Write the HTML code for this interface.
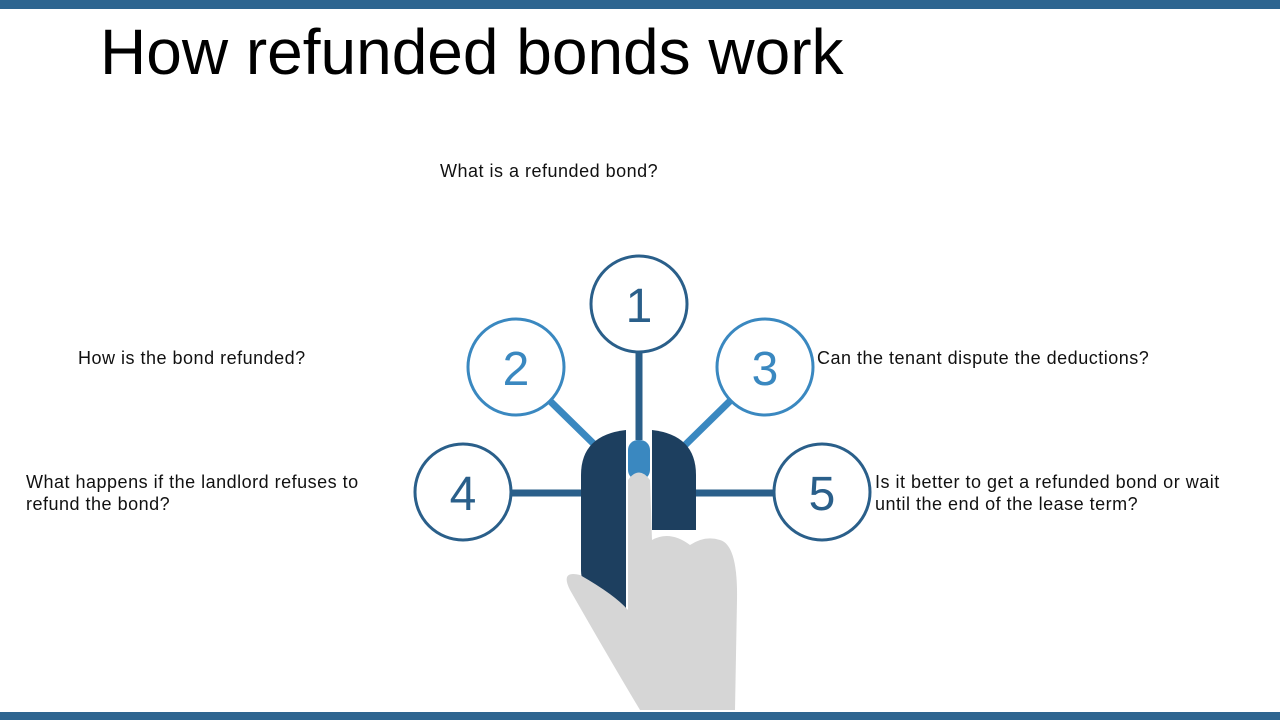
<!DOCTYPE html>
<html><head><style>
body{margin:0;width:1280px;height:720px;position:relative;background:#fff;overflow:hidden;font-family:"Liberation Sans",sans-serif;}
.t{position:absolute;font-size:18px;letter-spacing:0.5px;color:#111;line-height:22px;}
</style></head><body>
<div style="position:absolute;left:0;top:0;width:1280px;height:9px;background:#2e6590"></div>
<div style="position:absolute;left:0;top:712px;width:1280px;height:8px;background:#2e6590"></div>
<div style="position:absolute;left:100px;top:14px;font-size:64px;color:#000;line-height:76px;">How refunded bonds work</div>
<div class="t" style="left:440px;top:160px">What is a refunded bond?</div>
<div class="t" style="left:78px;top:347px">How is the bond refunded?</div>
<div class="t" style="left:817px;top:347px">Can the tenant dispute the deductions?</div>
<div class="t" style="left:26px;top:471px">What happens if the landlord refuses to<br>refund the bond?</div>
<div class="t" style="left:875px;top:471px">Is it better to get a refunded bond or wait<br>until the end of the lease term?</div>
<svg width="1280" height="720" style="position:absolute;left:0;top:0">
<g stroke-width="7">
<line x1="639" y1="352" x2="639" y2="440" stroke="#2a5f8a"/>
<line x1="550" y1="401" x2="600" y2="450" stroke="#3a88c0"/>
<line x1="730" y1="401" x2="680" y2="450" stroke="#3a88c0"/>
<line x1="511" y1="493" x2="590" y2="493" stroke="#2a5f8a"/>
<line x1="690" y1="493" x2="774" y2="493" stroke="#2a5f8a"/>
</g>
<g fill="#fff" stroke-width="3">
<circle cx="639" cy="304" r="48" stroke="#2a5f8a"/>
<circle cx="516" cy="367" r="48" stroke="#3a88c0"/>
<circle cx="765" cy="367" r="48" stroke="#3a88c0"/>
<circle cx="463" cy="492" r="48" stroke="#2a5f8a"/>
<circle cx="822" cy="492" r="48" stroke="#2a5f8a"/>
</g>
<g font-family="Liberation Sans" font-size="48" text-anchor="middle">
<text x="639" y="322" fill="#2a5f8a">1</text>
<text x="516" y="385" fill="#3a88c0">2</text>
<text x="765" y="385" fill="#3a88c0">3</text>
<text x="463" y="510" fill="#2a5f8a">4</text>
<text x="822" y="510" fill="#2a5f8a">5</text>
</g>
<path d="M581 475 Q581 435 626 430 L626 610 Q581 600 581 570 Z" fill="#1d3f5f"/>
<path d="M696 475 Q696 435 652 430 L652 530 L696 530 Z" fill="#1d3f5f"/>
<rect x="628" y="440" width="22" height="40" rx="10" fill="#3a88c0"/>
<path d="M628 480 Q639 465 650 480 L652 540 Q670 530 690 545 Q705 535 720 540 Q738 545 737 600 L735 710 L640 710 Q610 660 570 590 Q560 570 580 575 Q615 595 628 610 Z" fill="#d6d6d6"/>
</svg>
</body></html>
